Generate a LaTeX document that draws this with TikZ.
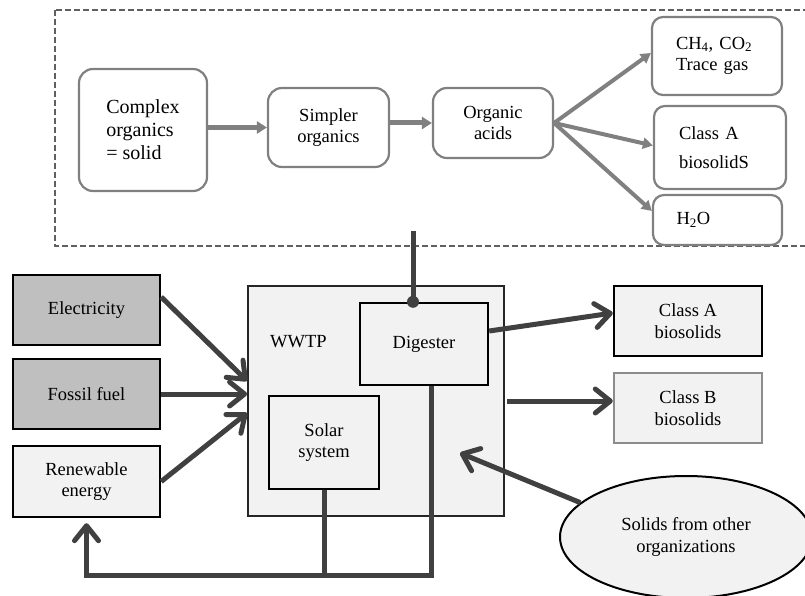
\documentclass[tikz,border=0pt]{standalone}
\usepackage{fontspec}
\setmainfont{Liberation Serif}
\usetikzlibrary{arrows.meta,shapes.geometric}
\definecolor{topline}{HTML}{808080}
\definecolor{dashline}{HTML}{606060}
\definecolor{darkline}{HTML}{404040}
\definecolor{boxfill}{HTML}{F2F2F2}
\definecolor{grayfill}{HTML}{BFBFBF}
\tikzset{
  rbox/.style={draw=topline, line width=2.2pt, rounded corners=14pt, fill=white,
    font=\fontsize{18.5}{21.5}\selectfont, align=center, inner sep=0pt},
  lbox/.style={rbox, rounded corners=11pt, align=left, text width=82pt, inner xsep=24pt},
  sbox/.style={draw=black, line width=2.4pt, fill=boxfill,
    font=\fontsize{18.5}{21.5}\selectfont, align=center, inner sep=0pt},
  garr/.style={draw=topline, line width=5pt, -{Triangle[length=10pt,width=12pt]}},
  farr/.style={draw=topline, line width=4pt, -{Triangle[length=10pt,width=11pt]}},
  darr/.style={draw=darkline, line width=5pt, -{Straight Barb[length=15pt,width=24pt,round]}},
  dline/.style={draw=darkline, line width=5pt},
}
\begin{document}
\begin{tikzpicture}[x=1pt,y=-1pt]
\useasboundingbox (0,0) rectangle (805,596);

% process chain of the digester
\draw[dashline, line width=2pt, dash pattern=on 6pt off 3pt] (55,10) rectangle (808,246);
\node[rbox, minimum width=128pt, minimum height=122pt, font=\fontsize{20}{23}\selectfont, align=left]
  (cx) at (143,130) {Complex\\organics\\= solid};
\node[rbox, minimum width=121pt, minimum height=79pt] (simp) at (328.5,127.5) {Simpler\\organics};
\node[rbox, minimum width=120pt, minimum height=70pt] (org) at (493,123) {Organic\\acids};
\node[lbox, minimum width=130pt, minimum height=78pt] (gas) at (717,56)
  {CH\textsubscript{4}, CO\textsubscript{2}\\Trace gas};
\node[lbox, minimum width=128pt, minimum height=83pt, inner xsep=25pt] (clsa) at (720,147.5)
  {Class A\\[8pt]biosolidS};
\node[lbox, minimum width=129pt, minimum height=50pt, inner xsep=22pt] (water) at (717.5,220)
  {H\textsubscript{2}O};

\draw[garr] (cx.east |- simp.west) -- (simp.west);
\draw[garr] (simp.east |- org.west) -- (org.west);
\draw[farr] (org.east) -- ([yshift=3pt]gas.west);
\draw[farr] (org.east) -- ([yshift=2pt]clsa.west);
\draw[farr] (org.east) -- ([yshift=9pt]water.west);

% energy inputs
\node[sbox, fill=grayfill, minimum width=147pt, minimum height=70pt] (elec) at (86.5,310) {Electricity};
\node[sbox, fill=grayfill, minimum width=147pt, minimum height=70pt] (foss) at (86.5,394) {Fossil fuel};
\node[sbox, minimum width=147pt, minimum height=71pt] (renew) at (86.5,481.5) {Renewable\\energy};

% treatment plant
\node[draw=black!85, line width=1.8pt, fill=boxfill, minimum width=256pt, minimum height=230pt]
  (wwtp) at (376,401) {};
\node[font=\fontsize{18.5}{21.5}\selectfont, anchor=west, inner sep=0pt] (wlab) at (270,342) {WWTP};
\node[sbox, minimum width=128pt, minimum height=82pt] (dig) at (424,344) {Digester};
\node[sbox, minimum width=110pt, minimum height=93pt] (solar) at (324,442.5) {Solar\\system};

% outputs
\node[sbox, minimum width=148pt, minimum height=70pt] (ba) at (688,321) {Class A\\biosolids};
\node[sbox, draw=black!45, minimum width=148pt, minimum height=70pt] (bb) at (688,408) {Class B\\biosolids};
\node[ellipse, draw=black, line width=2pt, fill=boxfill, minimum width=252pt, minimum height=122pt,
  font=\fontsize{18.5}{21.5}\selectfont, align=center, inner sep=0pt] (sol) at (686,537)
  {Solids from other\\organizations};

\draw[darr] ([yshift=13pt]elec.east) -- ([yshift=20pt]wwtp.west);
\draw[darr] (foss.east) -- (wwtp.west |- foss.east);
\draw[darr] (renew.east) -- ([yshift=-12pt]wwtp.west);
\draw[darr] ([yshift=13pt]dig.east) -- ([yshift=8pt]ba.west);
\draw[darr] ([xshift=2pt]wwtp.east) -- (wwtp.east -| bb.west);
\coordinate (inpt) at (460,453);
\draw[darr] (sol.162) -- (inpt);

% digester link to the process chain
\coordinate (link) at (413,231);
\draw[dline] (link) -- (dig.north -| link);
\fill[darkline] (dig.north -| link) circle (6pt);

% energy return loop
\coordinate (bot) at (0,575);
\draw[dline] (solar.south) -- (solar.south |- bot);
\draw[darr, shorten >=5pt] ([xshift=7pt]dig.south) -- ([xshift=7pt]dig.south |- bot) -| (renew.south);
\end{tikzpicture}
\end{document}
